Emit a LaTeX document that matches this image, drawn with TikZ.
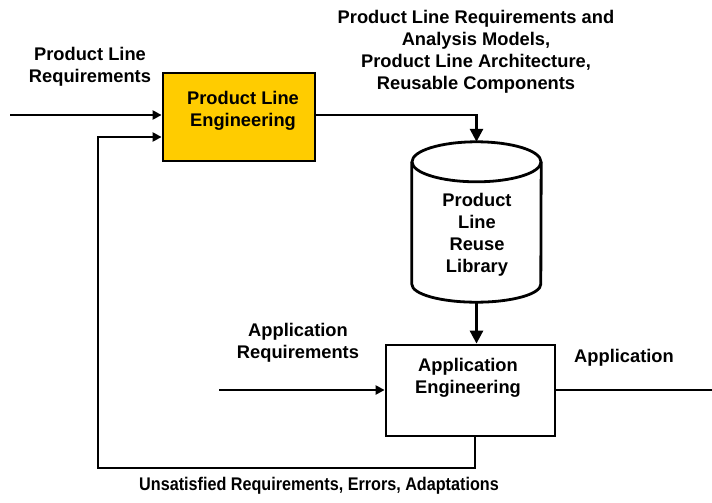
\documentclass[tikz,border=0pt]{standalone}
\usepackage{fontspec}
\setmainfont{Liberation Sans}
\usetikzlibrary{arrows.meta}
\definecolor{plyellow}{HTML}{FFCC00}
\begin{document}
\begin{tikzpicture}[x=1pt,y=-1pt,
  font=\fontsize{18.3}{22}\selectfont\bfseries,
  line/.style={line width=2.8pt},
  arr/.style={line width=2.8pt,-{Triangle[length=9pt,width=9pt]}},
  bigarr/.style={line width=2.8pt,-{Triangle[length=13pt,width=13pt]}},
  box/.style={draw,line width=2.8pt,inner sep=0pt},
  lbl/.style={align=center,inner sep=0pt}]
\useasboundingbox (0,0) rectangle (712,503);

% process boxes
\node[box,fill=plyellow,minimum width=152pt,minimum height=88pt] (ple) at (239,117) {};
\node[lbl] (pletxt) at (243,111) {Product Line\\Engineering};
\node[box,minimum width=169pt,minimum height=91pt] (ae) at (470.5,390.5) {};
\node[lbl] (aetxt) at (468,378) {Application\\Engineering};

% reuse library (cylinder)
\node[inner sep=0pt,minimum width=129pt,minimum height=160pt] (lib) at (476.5,222) {};
\draw[line] ([yshift=-20pt]lib.north) ellipse [x radius=64.5pt,y radius=20pt];
\draw[line] ([yshift=-20pt]lib.north west) -- ([yshift=18pt]lib.south west)
  arc[start angle=180,end angle=360,x radius=64.5pt,y radius=18pt]
  -- ([yshift=-20pt]lib.north east);
\node[lbl] (libtxt) at (477,235) {Product\\Line\\Reuse\\Library};

% labels
\node[lbl] (plreq) at (90,67) {Product Line\\Requirements};
\node[lbl] (artefacts) at (476,52) {Product Line Requirements and\\Analysis Models,\\Product Line Architecture,\\Reusable Components};
\node[lbl] (apreq) at (298,342.5) {Application\\Requirements};
\node[lbl] (apout) at (624,358) {Application};
\node[lbl] (fbtxt) at (319,486) {\scalebox{0.884}[1]{Unsatisfied Requirements, Errors, Adaptations}};

% free line ends
\coordinate (plin) at (10,115);
\coordinate (apin) at (219,390);
\coordinate (apend) at (712,390);
\coordinate (fbcorner) at (98,468);
\coordinate (fbin) at (98,137);

% connectors
\draw[arr] (plin) -- (plin -| ple.west);
\draw[bigarr] (plin -| ple.east) -| (lib.north);
\draw[bigarr] (lib.south) -- (lib.south |- ae.north);
\draw[arr] (apin) -- (apin -| ae.west);
\draw[line] (apin -| ae.east) -- (apend);
\draw[arr] ([xshift=4.5pt]ae.south) |- (fbcorner) -- (fbin) -- (fbin -| ple.west);
\end{tikzpicture}
\end{document}
